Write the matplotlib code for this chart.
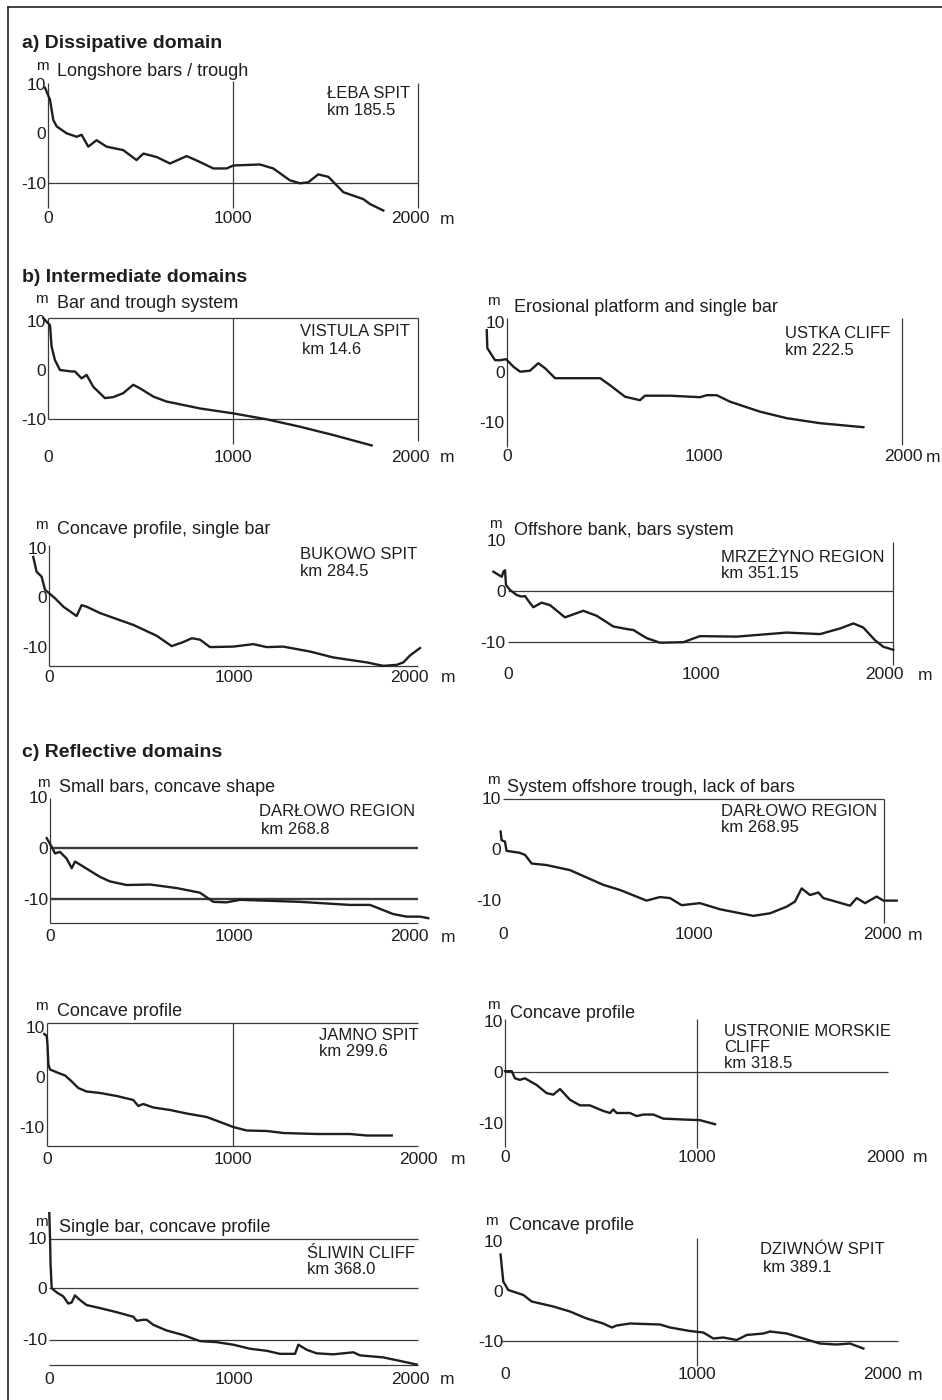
import matplotlib.pyplot as plt
from matplotlib.transforms import ScaledTranslation

plt.rcParams['font.family'] = ['Liberation Sans', 'DejaVu Sans']

W, H = 942, 1400
INK = '#1e1e1e'
FRAME = '#3a3a3a'

# beach profiles: distance offshore (m) and elevation (m)
leba_x = [-18, 9, 27, 45, 99, 153, 180, 216, 261, 315, 405, 477, 514, 586, 658, 748, 820, 892,
          964, 1000, 1144, 1216, 1306, 1360, 1405, 1459, 1514, 1595, 1703, 1739, 1811]
leba_z = [9.2, 6.8, 2.7, 1.4, 0.0, -0.7, -0.3, -2.7, -1.4, -2.7, -3.4, -5.4, -4.1, -4.8, -6.1,
          -4.6, -5.8, -7.1, -7.1, -6.5, -6.3, -7.1, -9.5, -10.1, -9.9, -8.3, -8.8, -11.9, -13.3,
          -14.3, -15.6]

vistula_x = [-27, 9, 18, 36, 63, 126, 144, 180, 207, 243, 306, 351, 405, 459, 495, 568, 640, 820,
             1000, 1180, 1360, 1541, 1748]
vistula_z = [10.5, 9.1, 4.7, 2.0, 0.0, -0.3, -0.3, -1.7, -1.0, -3.4, -5.7, -5.5, -4.7, -3.0, -3.7,
             -5.4, -6.4, -7.8, -8.8, -10.0, -11.5, -13.2, -15.3]

ustka_x = [-101, -98, -59, -34, -3, 34, 68, 118, 160, 194, 245, 473, 523, 599, 675, 700, 827, 979,
           1013, 1063, 1131, 1283, 1418, 1587, 1806]
ustka_z = [8.3, 4.7, 2.3, 2.3, 2.5, 1.0, 0.0, 0.2, 1.7, 0.7, -1.3, -1.3, -2.7, -5.0, -5.7, -4.8,
           -4.8, -5.1, -4.7, -4.7, -6.0, -8.0, -9.3, -10.3, -11.1]

bukowo_x = [-87, -69, -42, -23, 0, 31, 76, 148, 175, 202, 275, 455, 582, 663, 718, 773, 817, 871,
            997, 1106, 1178, 1268, 1413, 1539, 1720, 1810, 1883, 1919, 1955, 2009]
bukowo_z = [8.2, 5.2, 4.2, 1.5, 0.8, -0.2, -1.9, -3.8, -1.6, -1.9, -3.2, -5.6, -7.8, -9.9, -9.2,
            -8.3, -8.6, -10.1, -10.0, -9.5, -10.1, -10.0, -11.0, -12.2, -13.2, -13.9, -13.7, -13.2,
            -11.8, -10.3]

mrzezyno_x = [-74, -48, -31, -22, -14, -9, 12, 47, 73, 90, 116, 133, 176, 220, 297, 392, 462, 548,
              617, 652, 721, 790, 911, 997, 1188, 1447, 1620, 1723, 1793, 1844, 1905, 1948, 2000]
mrzezyno_z = [3.8, 3.2, 2.8, 3.8, 4.1, 1.2, 0.2, -0.8, -1.1, -1.0, -2.4, -3.2, -2.3, -2.8, -5.2,
              -3.9, -4.9, -7.0, -7.5, -7.7, -9.3, -10.2, -10.1, -8.9, -9.0, -8.2, -8.5, -7.4, -6.4,
              -7.2, -9.7, -11.0, -11.6]

darlowo1_x = [-18, 9, 27, 54, 90, 118, 136, 181, 271, 326, 416, 543, 688, 814, 887, 959, 1032, 1357,
              1629, 1738, 1864, 1937, 2009, 2054]
darlowo1_z = [2.0, 0.3, -1.0, -0.7, -2.0, -3.9, -2.6, -3.6, -5.6, -6.5, -7.2, -7.1, -7.8, -8.7,
              -10.5, -10.6, -10.1, -10.5, -11.1, -11.1, -12.9, -13.4, -13.4, -13.7]

darlowo2_x = [-14, -9, 9, 17, 87, 114, 149, 227, 350, 525, 612, 752, 822, 875, 936, 1032, 1137, 1312,
              1400, 1487, 1531, 1566, 1610, 1654, 1680, 1820, 1855, 1899, 1960, 1995, 2065]
darlowo2_z = [3.5, 1.8, 1.5, -0.3, -0.7, -1.1, -2.8, -3.1, -4.1, -7.0, -8.0, -10.1, -9.4, -9.6,
              -11.0, -10.6, -11.8, -13.1, -12.6, -11.3, -10.3, -7.7, -9.0, -8.5, -9.6, -11.1, -9.6,
              -10.6, -9.3, -10.1, -10.1]

jamno_x = [-13, 0, 4, 9, 18, 63, 99, 135, 170, 215, 287, 377, 466, 493, 520, 574, 664, 753, 861,
           933, 1004, 1076, 1184, 1274, 1453, 1632, 1722, 1857]
jamno_z = [8.6, 8.2, 6.6, 2.5, 1.5, 0.8, 0.3, -0.9, -2.2, -2.9, -3.2, -3.8, -4.6, -5.8, -5.4, -6.1,
           -6.6, -7.3, -8.0, -9.0, -10.0, -10.7, -10.8, -11.2, -11.4, -11.4, -11.7, -11.7]

ustronie_x = [0, 35, 52, 78, 104, 165, 217, 252, 287, 339, 391, 443, 513, 548, 565, 583, 652, 687,
              722, 774, 826, 948, 1017, 1096]
ustronie_z = [0.1, 0.1, -1.3, -1.6, -1.3, -2.6, -4.2, -4.5, -3.4, -5.5, -6.6, -6.6, -7.7, -8.1,
              -7.4, -8.1, -8.1, -8.7, -8.4, -8.4, -9.2, -9.4, -9.5, -10.3]

sliwin_x = [0, 4, 7, 13, 40, 76, 103, 121, 139, 166, 202, 275, 365, 455, 474, 510, 528, 564, 636,
            726, 817, 907, 997, 1088, 1178, 1250, 1332, 1350, 1395, 1449, 1539, 1648, 1684, 1810,
            1901, 1991]
sliwin_z = [14.8, 9.8, 4.6, 0.0, -0.8, -1.6, -3.0, -2.8, -1.4, -2.3, -3.3, -3.9, -4.7, -5.6, -6.4,
            -6.2, -6.2, -7.2, -8.3, -9.2, -10.4, -10.6, -11.1, -11.9, -12.3, -12.9, -12.9, -11.1,
            -12.1, -12.8, -13.0, -12.6, -13.2, -13.6, -14.3, -15.0]

dziwnow_x = [-23, -17, -9, 17, 96, 139, 252, 339, 426, 513, 557, 583, 652, 809, 861, 965, 1035, 1087,
             1139, 1209, 1261, 1348, 1383, 1470, 1557, 1643, 1730, 1800, 1870]
dziwnow_z = [7.3, 4.9, 1.9, 0.2, -0.8, -2.1, -3.1, -4.1, -5.5, -6.5, -7.3, -6.9, -6.5, -6.7, -7.3,
             -8.0, -8.3, -9.5, -9.3, -9.8, -8.8, -8.5, -8.1, -8.5, -9.5, -10.5, -10.7, -10.5, -11.5]

fig = plt.figure(figsize=(W / 100, H / 100), dpi=100)

TICK_FS = 12.5
SUB_FS = 13
SITE_FS = 12
UNIT_FS = 11


def ftext(px, py, s, **kw):
    kw.setdefault('fontsize', SITE_FS)
    kw.setdefault('color', INK)
    kw.setdefault('va', 'center')
    fig.text(px / W, 1 - py / H, s, **kw)


def make_axes(x0, x2000, y0, sy, xrow, shift2000=0):
    # x0/x2000: pixel of 0 m and 2000 m, y0: pixel of 0 m depth, sy: pixels per metre
    sx = (x2000 - x0) / 2000
    left, right = x0 - 150 * sx, x0 + 2300 * sx
    top, bottom = y0 - 16 * sy, y0 + 22 * sy
    ax = fig.add_axes([left / W, 1 - bottom / H, (right - left) / W, (bottom - top) / H])
    ax.set_xlim(-150, 2300)
    ax.set_ylim(-22, 16)
    ax.patch.set_alpha(0)
    for s in ['top', 'right', 'left', 'bottom']:
        ax.spines[s].set_visible(False)
    ax.spines['left'].set_position(('data', 0))
    ax.spines['bottom'].set_position(('data', xrow))
    ax.set_yticks([-10, 0, 10], ['-10', '0', '10'])
    ax.set_xticks([0, 1000, 2000], ['0', '1000', '2000'])
    ax.tick_params(length=0, labelsize=TICK_FS, labelcolor=INK)
    ax.tick_params(axis='y', pad=1.5)
    ax.tick_params(axis='x', pad=0.5)
    # the "2000" label sits a little off its gridline in the original drawing
    lab = ax.get_xticklabels()[2]
    lab.set_transform(lab.get_transform() + ScaledTranslation(shift2000 / 100, 0, fig.dpi_scale_trans))
    return ax


def frame(ax, h=(), v=(), lw=0.9):
    for y, a, b in h:
        ax.hlines(y, a, b, color=FRAME, lw=lw)
    for x, a, b in v:
        ax.vlines(x, a, b, color=FRAME, lw=lw)


def profile(ax, x, z):
    ax.plot(x, z, color=INK, lw=1.7, solid_joinstyle='round', clip_on=False)


def labels(sub, sub_xy, m_xy, site_lines, site_xy, unit_xy):
    ftext(sub_xy[0], sub_xy[1], sub, fontsize=SUB_FS)
    ftext(m_xy[0], m_xy[1], 'm', fontsize=UNIT_FS, ha='center')
    for i, s in enumerate(site_lines):
        ftext(site_xy[0], site_xy[1] + 16.5 * i, s)
    ftext(unit_xy[0], unit_xy[1], 'm', fontsize=TICK_FS, ha='center')


# border of the plate
fig.add_artist(plt.Line2D([8 / W, 1], [1 - 6.5 / H] * 2, color='#222', lw=1.2))
fig.add_artist(plt.Line2D([8 / W] * 2, [0, 1 - 6.5 / H], color='#222', lw=1.2))

ftext(22, 44, 'a) Dissipative domain', fontsize=14, weight='bold')
ftext(22, 277, 'b) Intermediate domains', fontsize=14, weight='bold')
ftext(22, 753, 'c) Reflective domains', fontsize=14, weight='bold')

# a) Leba
ax = make_axes(48.3, 418.3, 133.3, 4.95, -15.6, -8)
frame(ax, h=[(-10, 0, 2000)], v=[(0, -15, 10.2), (1000, -15, 10.6), (2000, -15, 10.2)])
profile(ax, leba_x, leba_z)
labels('Longshore bars / trough', (57, 72), (42, 66), ['ŁEBA SPIT', 'km 185.5'], (327, 94),
       (447, 219))

# b) Vistula
ax = make_axes(48.3, 418.3, 370.0, 4.93, -16.1, -8)
frame(ax, h=[(10.6, 0, 2000), (-10, 0, 2000)],
      v=[(0, -10, 10.6), (1000, -15, 10.6), (2000, -14.5, 10.6)])
profile(ax, vistula_x, vistula_z)
labels('Bar and trough system', (57, 304), (41, 299), ['VISTULA SPIT'], (300, 332), (447, 458))
ftext(302, 350, 'km 14.6')

# b) Ustka
ax = make_axes(506.7, 901.7, 371.7, 5.0, -15.3, 2)
frame(ax, v=[(0, -15, 10.7), (2000, -14.6, 10.7)])
profile(ax, ustka_x, ustka_z)
labels('Erosional platform and single bar', (514, 307), (493, 301), ['USTKA CLIFF', 'km 222.5'],
       (785, 334), (933, 457))

# b) Bukowo
ax = make_axes(49.3, 418.3, 597.3, 4.93, -14.7, -9)
frame(ax, h=[(-14, 0, 2000)], v=[(0, -14, 10.6)])
profile(ax, bukowo_x, bukowo_z)
labels('Concave profile, single bar', (57, 530), (41, 525), ['BUKOWO SPIT', 'km 284.5'],
       (300, 555), (448, 678))

# b) Mrzezyno
ax = make_axes(507.7, 893.3, 591.0, 5.07, -14.9, -9)
frame(ax, h=[(0, 0, 2000), (-10, 0, 2000)], v=[(2000, -14.5, 9.7)])
profile(ax, mrzezyno_x, mrzezyno_z)
labels('Offshore bank, bars system', (514, 531), (495, 524), ['MRZEŻYNO REGION', 'km 351.15'],
       (721, 557), (925, 675))

# c) Darlowo 268.8
ax = make_axes(50.0, 418.3, 848.3, 5.1, -15.7, -9)
frame(ax, h=[(-14.7, 0, 2000)], v=[(0, -14.7, 9.8)])
frame(ax, h=[(0, 0, 2000), (-10, 0, 2000)], lw=1.7)
profile(ax, darlowo1_x, darlowo1_z)
labels('Small bars, concave shape', (59, 788), (43, 783), ['DARŁOWO REGION'], (259, 812),
       (448, 937))
ftext(261, 829, 'km 268.8')

# c) Darlowo 268.95
ax = make_axes(503.3, 884.3, 849.3, 5.08, -15.2, -2)
frame(ax, h=[(10, 0, 2000)], v=[(2000, -14.6, 10)])
profile(ax, darlowo2_x, darlowo2_z)
labels('System offshore trough, lack of bars', (507, 787), (493, 780),
       ['DARŁOWO REGION', 'km 268.95'], (721, 811), (915, 935))

# c) Jamno
ax = make_axes(46.7, 418.3, 1077.0, 5.0, -14.9, 0)
frame(ax, h=[(10.9, 0, 2000), (-13.8, 0, 2000)],
      v=[(0, -13.8, 10.9), (1000, -13.8, 10.9)])
profile(ax, jamno_x, jamno_z)
labels('Concave profile', (57, 1011), (41, 1006), ['JAMNO SPIT', 'km 299.6'], (319, 1035),
       (458, 1160))

# c) Ustronie Morskie
ax = make_axes(505.0, 888.3, 1071.7, 5.1, -15.2, -3)
frame(ax, h=[(0, 0, 2000)], v=[(0, -14.7, 10.3), (1000, -15, 10.3)])
profile(ax, ustronie_x, ustronie_z)
labels('Concave profile', (510, 1013), (493, 1005), ['USTRONIE MORSKIE', 'CLIFF', 'km 318.5'],
       (724, 1031), (920, 1158))

# c) Sliwin
ax = make_axes(49.3, 418.3, 1288.3, 5.08, -16.3, -8)
frame(ax, h=[(9.8, 0, 2000), (0, 0, 2000), (-10.2, 0, 2000), (-15.1, 0, 2000)])
profile(ax, sliwin_x, sliwin_z)
labels('Single bar, concave profile', (59, 1227), (41, 1222), ['ŚLIWIN CLIFF', 'km 368.0'],
       (307, 1253), (447, 1380))

# c) Dziwnow
ax = make_axes(505.0, 888.3, 1291.0, 5.0, -15.1, -6)
frame(ax, h=[(-10, -20, 2050)], v=[(1000, -15, 10.7)])
profile(ax, dziwnow_x, dziwnow_z)
labels('Concave profile', (509, 1226), (491, 1221), ['DZIWNÓW SPIT'], (760, 1250), (915, 1375))
ftext(763, 1268, 'km 389.1')

fig.savefig('out.png', dpi=100, facecolor='white')
